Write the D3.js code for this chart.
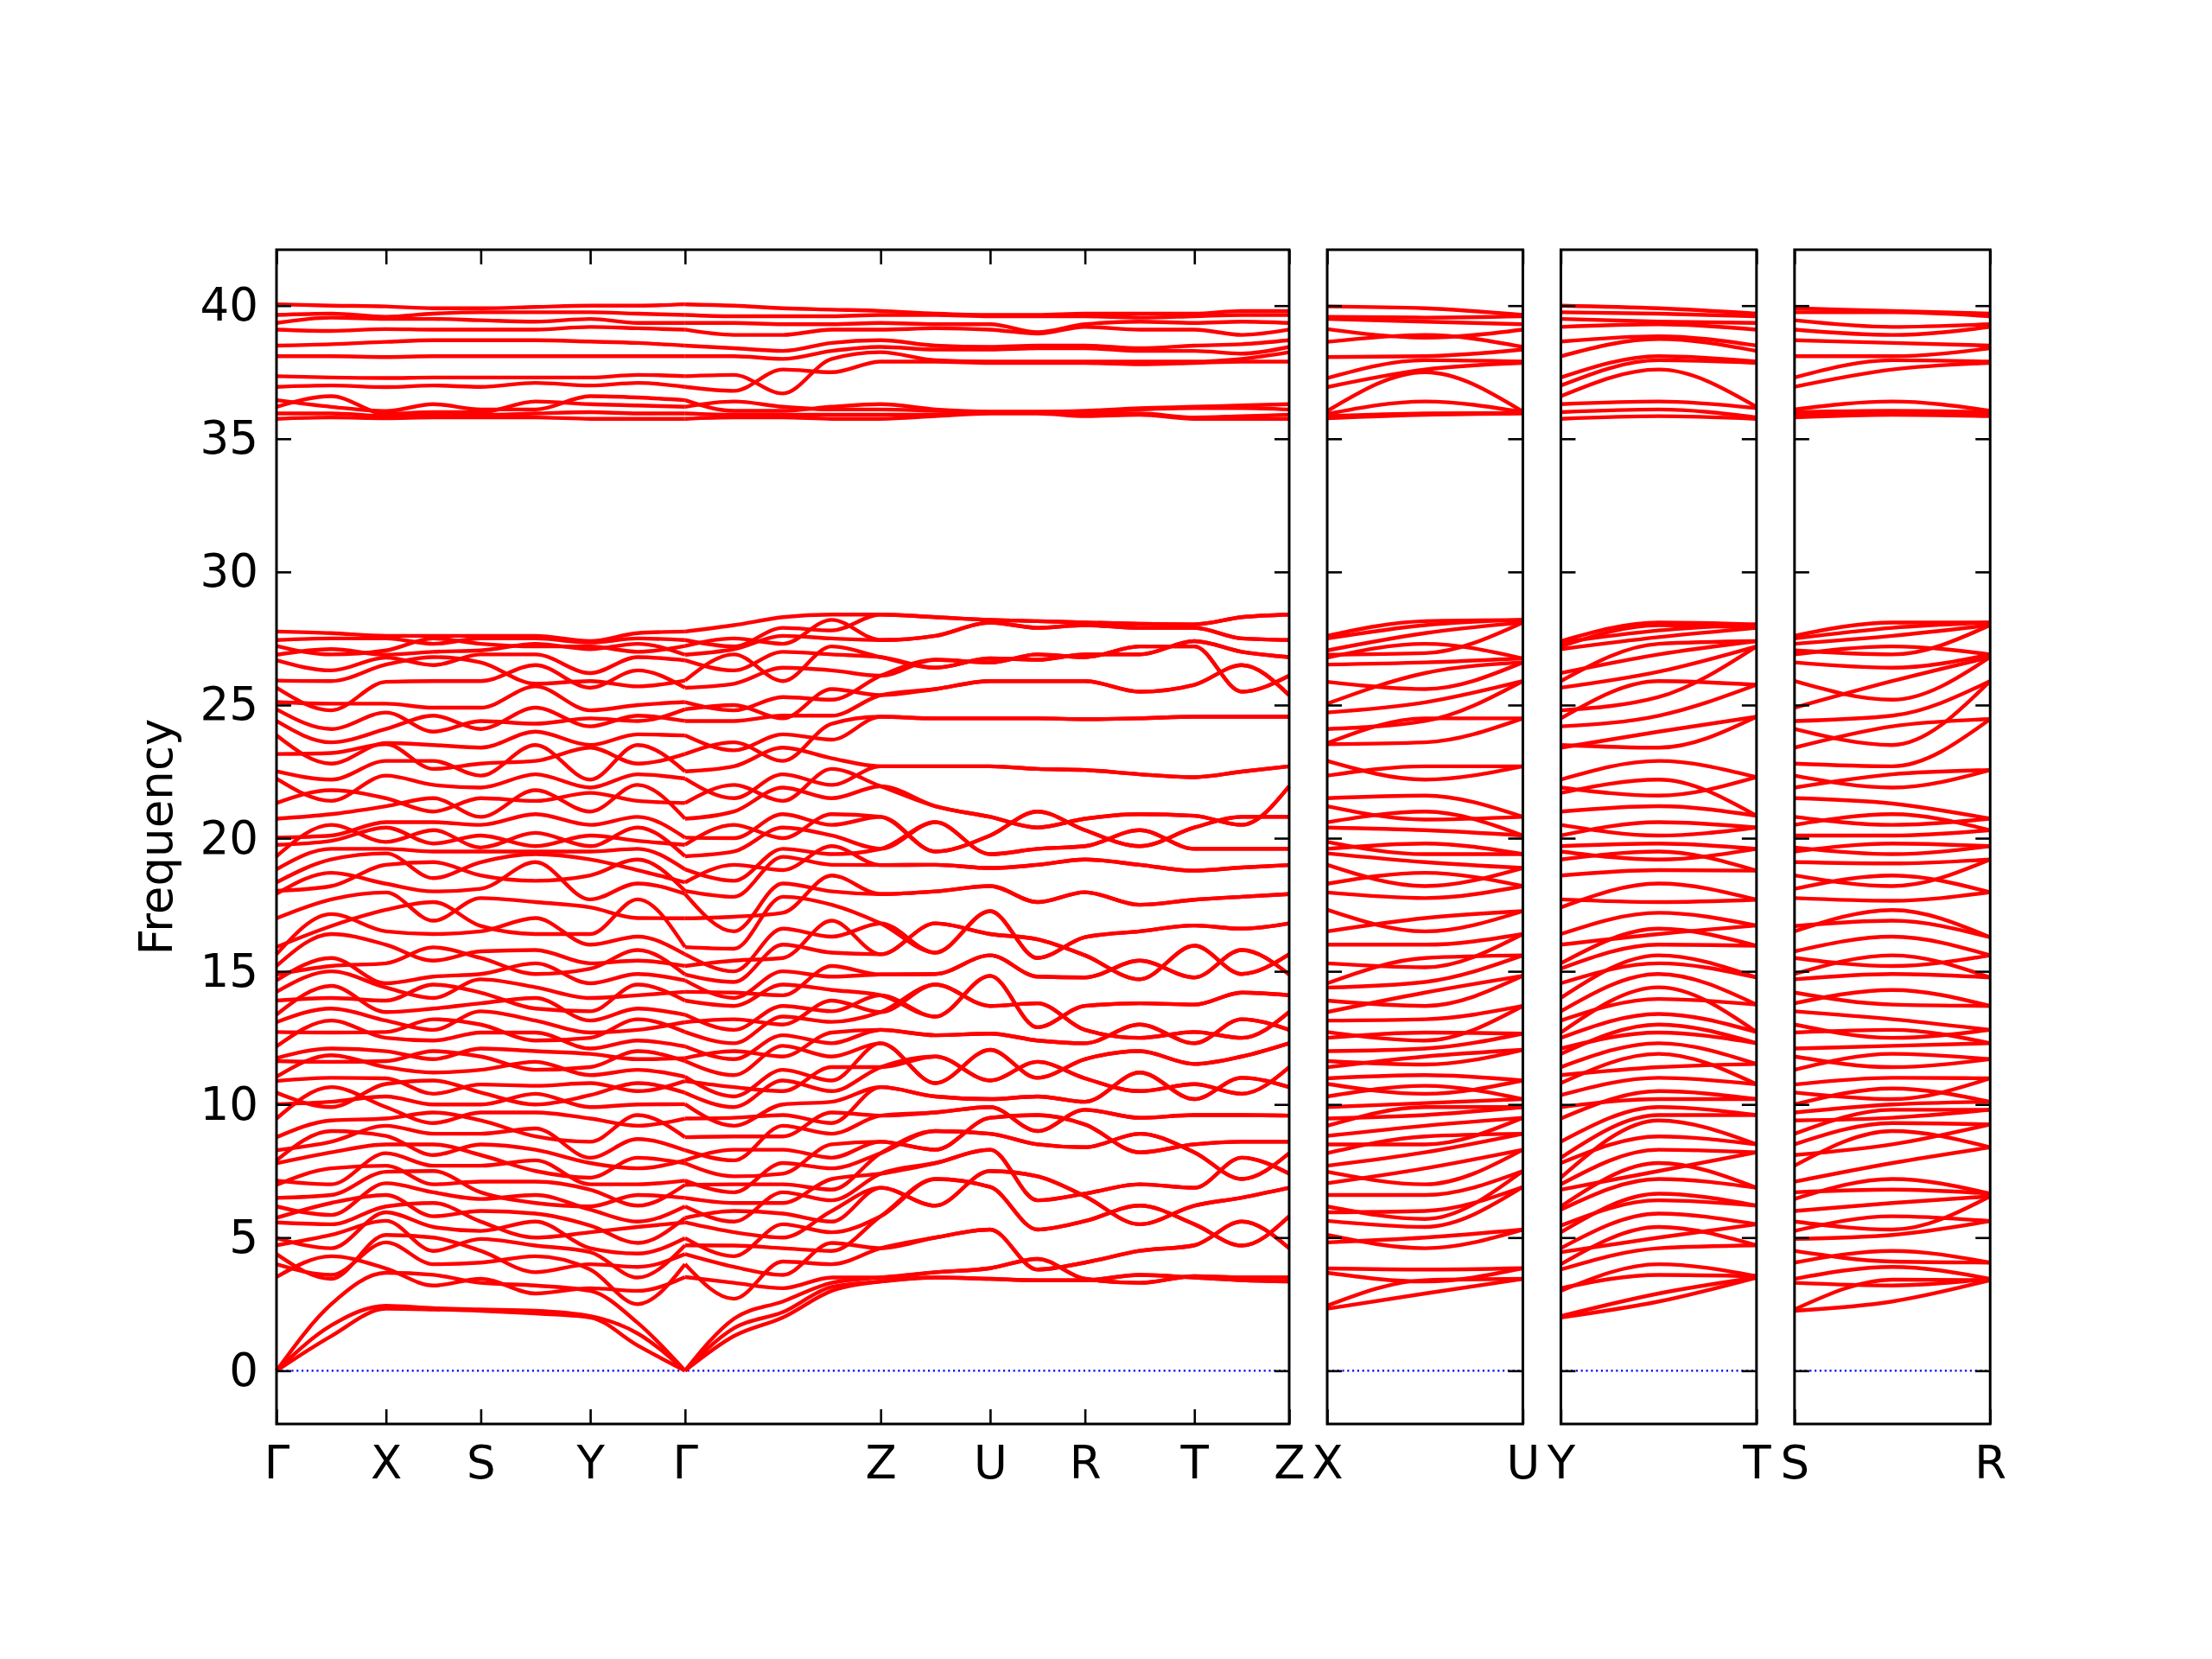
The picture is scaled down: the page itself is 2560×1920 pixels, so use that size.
<!DOCTYPE html>
<html>
<head>
<meta charset="utf-8">
<script src="https://cdn.jsdelivr.net/npm/d3@7"></script>
<style>
body { margin: 0; background: #fff; }
</style>
</head>
<body>
<svg id="drawing_region"></svg>
<script>
// band path: high-symmetry labels per panel and segment lengths (reciprocal space)
const panelPaths = [
    ["Γ", "X", "S", "Y", "Γ", "Z", "U", "R", "T", "Z"],
    ["X", "U"],
    ["Y", "T"],
    ["S", "R"]
];
const panelKeys = [
    ["G", "X", "S", "Y", "G", "Z", "U", "R", "T", "Z"],
    ["X", "U"],
    ["Y", "T"],
    ["S", "R"]
];
const panelSegLengths = [
    [1.27, 1.10, 1.27, 1.10, 2.27, 1.27, 1.10, 1.27, 1.10],
    [2.27],
    [2.27],
    [2.27]
];
// q-points sampled inside each segment
const panelSegSamples = [
    [["GX"], ["XS"], ["SY"], ["YG"], ["GZ1", "GZ2", "GZ3"], ["ZU"], ["UR"], ["RT"], ["TZ"]],
    [["XU"]],
    [["YT"]],
    [["SR"]]
];
// the curve is restarted at these segments (kink of the acoustic branches at Γ)
const panelBreaks = [[4], [], [], []];

// frequencies at each sampled q-point, lower 60 branches, listed branch by branch
const lowG = [0, 0, 0, 3.52, 4.0, 4.38, 4.71, 4.98, 5.57, 5.74, 6.17, 6.49, 6.98, 7.14, 7.79, 7.9, 8.28, 8.77, 9.47, 10.01, 10.44, 10.88, 11.04, 11.63, 11.74, 12.18, 12.72, 13.09, 13.37, 13.9, 14.23, 14.66, 14.88, 15.2, 15.64, 15.91, 16.99, 17.91, 18.02, 18.34, 18.83, 19.32, 19.75, 20.02, 20.73, 21.32, 22.24, 22.51, 23.16, 23.86, 24.4, 24.84, 25.11, 25.65, 25.92, 26.68, 26.89, 27.22, 27.44, 27.76];
const lowGX = [1.3, 1.7, 2.5, 4.3, 3.6, 3.45, 5.1, 4.6, 5.5, 6.3, 5.85, 6.6, 7.6, 7.0, 8.2, 9.0, 8.6, 9.4, 10.65, 10.1, 9.9, 11.0, 11.85, 11.6, 12.1, 13.15, 12.7, 13.6, 14.45, 14.0, 15.0, 15.5, 15.2, 16.4, 17.15, 16.7, 17.7, 18.7, 18.2, 19.2, 19.6, 20.5, 19.9, 20.1, 20.9, 21.8, 21.4, 22.2, 23.2, 22.8, 23.6, 24.1, 25.05, 24.8, 25.9, 26.3, 27.1, 26.9, 27.5, 27.7];
const lowX = [2.33, 2.44, 3.68, 3.84, 4.82, 5.1, 5.63, 5.95, 6.17, 6.6, 7.04, 7.47, 7.7, 8.17, 8.5, 8.82, 9.2, 9.47, 9.9, 10.3, 10.77, 10.98, 11.4, 11.63, 12.0, 12.5, 12.72, 13.15, 13.47, 13.9, 14.39, 14.55, 15.3, 16.0, 16.5, 17.31, 17.96, 18.29, 19.0, 19.43, 19.6, 19.86, 20.4, 20.6, 21.2, 21.5, 22.35, 22.9, 23.53, 23.57, 24.1, 24.72, 25.05, 25.87, 26.52, 26.78, 26.89, 27.05, 27.5, 27.6];
const lowXS = [2.3, 2.35, 3.6, 3.2, 4.0, 5.0, 4.5, 5.4, 6.3, 5.8, 6.7, 7.5, 7.0, 7.7, 8.5, 8.1, 8.9, 9.7, 9.3, 10.0, 10.9, 10.4, 11.2, 12.0, 11.7, 12.4, 13.2, 12.8, 13.6, 14.5, 14.0, 14.8, 15.9, 15.4, 16.4, 17.6, 16.9, 18.0, 19.1, 18.5, 19.5, 20.3, 19.8, 20.6, 21.5, 21.0, 22.0, 22.9, 22.6, 23.5, 24.6, 24.0, 24.9, 25.9, 26.8, 26.5, 27.0, 27.5, 27.3, 27.6];
const lowS = [2.25, 2.3, 3.3, 3.45, 4.06, 4.5, 4.95, 5.25, 5.6, 6.0, 6.45, 6.7, 7.1, 7.7, 8.1, 8.5, 8.9, 9.4, 9.7, 10.0, 10.45, 10.75, 11.3, 11.8, 12.1, 12.7, 13.0, 13.5, 13.8, 14.2, 14.7, 14.9, 15.5, 15.75, 16.5, 16.7, 17.75, 18.1, 18.6, 19.1, 19.5, 19.65, 20.1, 20.5, 20.8, 21.5, 21.9, 22.35, 22.8, 23.4, 24.1, 24.4, 24.9, 25.9, 26.6, 26.9, 27.05, 27.3, 27.5, 27.6];
const lowSY = [2.15, 2.25, 3.2, 2.9, 4.3, 3.7, 4.7, 5.6, 5.0, 5.9, 6.6, 6.3, 7.1, 7.9, 7.5, 8.3, 9.1, 8.8, 9.7, 10.4, 10.0, 10.7, 11.6, 11.3, 12.0, 12.7, 12.4, 13.15, 14.0, 13.6, 14.4, 15.3, 14.9, 15.8, 17.0, 16.4, 17.6, 19.1, 18.4, 19.4, 19.5, 20.2, 19.7, 20.9, 21.8, 21.4, 22.4, 23.5, 22.9, 24.0, 24.9, 24.3, 25.7, 26.5, 25.8, 26.9, 27.3, 27.2, 27.5, 27.6];
const lowY = [2.0, 2.05, 3.0, 3.1, 3.8, 4.0, 4.45, 4.6, 5.2, 5.45, 6.05, 6.17, 6.8, 7.0, 7.25, 7.8, 8.0, 8.6, 9.47, 9.9, 10.35, 10.8, 11.1, 11.4, 11.9, 12.1, 12.5, 12.7, 13.15, 13.5, 14.0, 14.55, 15.1, 15.3, 16.0, 16.4, 17.4, 17.7, 18.6, 19.2, 19.5, 19.7, 20.1, 20.5, 21.0, 21.7, 21.9, 22.2, 23.4, 23.5, 24.2, 24.5, 24.8, 25.65, 25.9, 26.2, 27.1, 27.2, 27.35, 27.4];
const lowYG = [0.95, 1.4, 1.8, 3.0, 2.5, 3.9, 3.5, 4.4, 5.4, 4.8, 5.6, 6.6, 6.2, 7.0, 8.0, 7.6, 8.7, 9.6, 9.2, 10.0, 10.8, 10.5, 11.3, 12.0, 11.7, 12.4, 13.2, 12.8, 13.6, 14.5, 14.1, 14.9, 15.8, 15.4, 16.3, 17.7, 17.0, 18.3, 19.2, 18.8, 19.6, 20.4, 19.9, 20.8, 22.0, 21.4, 22.4, 23.5, 22.8, 23.9, 24.6, 24.4, 25.0, 26.3, 25.7, 26.8, 27.3, 27.0, 27.5, 27.7];
const lowGZ1 = [1.3, 1.6, 1.95, 3.3, 2.7, 3.9, 4.7, 4.3, 5.2, 6.0, 5.6, 6.3, 7.0, 6.7, 7.3, 8.3, 7.9, 8.8, 9.5, 9.2, 9.9, 10.65, 10.3, 11.1, 12.0, 11.7, 12.3, 13.2, 12.8, 13.7, 14.2, 14.0, 14.6, 15.4, 15.0, 15.85, 17.05, 16.5, 17.8, 19.0, 18.4, 19.5, 20.5, 20.0, 21.0, 22.0, 21.5, 22.7, 23.6, 23.3, 24.4, 25.0, 24.8, 25.8, 26.9, 26.3, 27.1, 27.5, 27.2, 28.0];
const lowGZ2 = [2.0, 2.2, 2.6, 3.1, 4.1, 3.6, 4.6, 5.5, 5.0, 5.9, 6.7, 6.3, 7.0, 7.8, 7.4, 8.3, 9.2, 8.8, 9.6, 10.0, 10.9, 10.5, 11.3, 12.2, 11.8, 12.6, 13.3, 13.0, 13.7, 14.5, 14.1, 15.0, 16.0, 15.5, 16.6, 17.8, 17.2, 18.3, 19.3, 18.8, 19.6, 20.4, 20.0, 20.9, 21.9, 21.4, 22.4, 23.4, 22.9, 23.9, 24.6, 24.5, 25.3, 26.4, 25.9, 27.0, 27.6, 27.3, 27.9, 28.3];
const lowGZ3 = [3.0, 3.15, 3.3, 3.5, 4.0, 4.8, 4.5, 5.2, 6.0, 5.6, 6.4, 7.2, 6.8, 7.6, 8.5, 8.0, 8.9, 9.7, 9.3, 10.1, 10.5, 11.4, 10.9, 11.8, 12.7, 12.3, 13.1, 13.9, 13.5, 14.3, 15.2, 14.8, 15.7, 16.9, 16.3, 17.5, 18.6, 18.0, 19.0, 19.7, 19.4, 20.1, 20.9, 20.5, 21.5, 22.6, 22.0, 23.0, 24.3, 23.7, 24.6, 25.6, 25.2, 26.3, 27.2, 26.9, 27.5, 28.2, 27.8, 28.4];
const lowXU = [2.9, 3.4, 3.35, 3.8, 5.0, 4.6, 5.4, 6.0, 5.7, 6.6, 7.6, 7.0, 8.2, 8.8, 8.5, 9.2, 9.9, 9.6, 10.05, 10.7, 10.4, 11.1, 11.8, 11.5, 12.1, 12.7, 12.4, 13.2, 14.2, 13.7, 14.6, 15.5, 15.15, 16.0, 17.0, 16.5, 17.75, 18.7, 18.2, 19.1, 19.8, 19.4, 20.3, 21.0, 20.7, 21.6, 22.7, 22.2, 23.6, 24.5, 24.4, 25.1, 26.2, 25.6, 26.6, 27.3, 26.95, 27.7, 28.0, 28.15];
const lowYT = [2.6, 2.9, 4.0, 3.6, 4.6, 5.4, 5.0, 5.9, 6.65, 6.4, 7.2, 7.8, 7.5, 8.3, 9.4, 8.8, 9.6, 9.9, 10.5, 10.2, 11.0, 11.9, 11.4, 12.3, 13.0, 12.7, 13.4, 14.4, 13.96, 14.9, 15.6, 15.3, 16.0, 16.6, 16.4, 17.2, 18.3, 17.6, 18.8, 19.5, 19.2, 19.8, 20.6, 20.1, 21.2, 22.2, 21.6, 22.9, 24.0, 23.4, 24.6, 25.9, 25.3, 26.25, 27.3, 26.9, 27.55, 28.0, 27.8, 28.1];
const lowSR = [2.6, 3.42, 3.2, 3.9, 4.5, 4.1, 5.1, 5.8, 5.3, 6.3, 7.2, 6.8, 7.8, 9.0, 8.5, 9.3, 9.8, 9.5, 10.0, 10.6, 10.2, 11.0, 11.9, 11.4, 12.2, 12.8, 12.5, 13.2, 14.3, 13.75, 14.9, 15.6, 15.2, 16.3, 17.3, 16.9, 17.65, 18.6, 18.2, 19.05, 19.8, 19.4, 20.1, 20.9, 20.5, 21.3, 22.4, 21.9, 22.7, 24.2, 23.5, 24.6, 25.9, 25.2, 26.4, 27.2, 26.9, 27.6, 27.9, 28.1];

// on the Z-U-R-T face the lower branches come in degenerate pairs (each value = 2 branches)
const pairZ = [3.35, 3.5, 4.6, 5.8, 6.87, 7.4, 8.17, 8.6, 9.58, 10.65, 11.4, 12.3, 12.8, 13.47, 14.1, 14.88, 15.64, 16.8, 17.9, 18.99, 19.6, 20.8, 21.95, 22.7, 24.56, 25.37, 26.1, 26.8, 27.44, 28.4];
const pairZU = [3.5, 3.7, 5.0, 7.2, 6.2, 7.8, 9.0, 8.3, 9.7, 10.3, 11.8, 10.8, 12.6, 14.5, 13.3, 14.9, 16.8, 15.7, 18.0, 19.0, 20.6, 19.5, 21.2, 22.7, 24.5, 25.6, 26.7, 26.4, 27.6, 28.3];
const pairU = [3.45, 3.85, 5.3, 6.9, 7.5, 8.3, 8.9, 9.5, 9.9, 10.2, 10.9, 12.05, 12.66, 13.7, 14.83, 15.6, 16.4, 17.26, 18.2, 18.88, 19.4, 20.1, 20.8, 22.7, 24.5, 25.9, 26.6, 26.75, 28.1, 28.2];
const pairUR = [3.4, 4.2, 3.8, 5.3, 7.3, 6.4, 8.5, 9.6, 9.0, 10.3, 11.6, 11.0, 12.4, 13.8, 12.9, 14.8, 16.2, 15.5, 17.6, 19.0, 19.6, 21.0, 20.4, 22.6, 24.5, 25.9, 26.9, 26.7, 27.9, 28.15];
const pairR = [3.4, 3.45, 4.06, 5.62, 6.55, 6.65, 8.39, 9.25, 9.8, 10.1, 10.98, 11.7, 12.3, 12.8, 13.7, 14.77, 15.6, 16.28, 17.97, 19.2, 19.7, 20.3, 20.73, 22.56, 24.47, 25.9, 26.8, 26.9, 28.0, 28.1];
const pairRT = [3.6, 3.3, 4.5, 6.2, 5.5, 7.0, 8.9, 8.2, 9.5, 11.2, 10.5, 12.0, 13.0, 12.5, 13.8, 15.4, 14.7, 16.5, 17.5, 19.0, 20.3, 19.7, 20.9, 22.4, 24.5, 25.5, 27.2, 26.9, 27.9, 28.05];
const pairT = [3.5, 3.55, 4.71, 5.5, 6.2, 6.87, 8.2, 8.5, 9.6, 10.2, 10.76, 11.52, 12.3, 12.72, 13.75, 14.77, 15.96, 16.72, 17.69, 18.78, 19.6, 20.4, 20.84, 22.29, 24.56, 25.76, 27.2, 27.4, 27.9, 28.03];
const pairTZ = [3.4, 3.5, 5.6, 4.7, 6.5, 8.0, 7.2, 8.6, 9.6, 11.0, 10.4, 11.8, 13.2, 12.5, 14.2, 15.8, 14.9, 16.6, 17.8, 18.9, 19.6, 20.8, 20.5, 22.5, 24.56, 26.5, 25.5, 27.0, 27.5, 28.3];

// upper 12 branches (above the gap)
const highG = [35.75, 35.95, 36.2, 36.45, 36.95, 37.35, 38.1, 38.5, 39.1, 39.35, 39.65, 40.05];
const highGX = [35.8, 35.95, 36.6, 36.2, 37.0, 37.3, 38.1, 38.55, 39.05, 39.55, 39.7, 40.0];
const highX = [35.77, 35.85, 35.93, 36.04, 36.94, 37.28, 38.07, 38.64, 39.12, 39.5, 39.58, 39.97];
const highXS = [35.8, 35.9, 36.0, 36.3, 37.0, 37.3, 38.1, 38.7, 39.1, 39.5, 39.7, 39.9];
const highS = [35.8, 35.9, 36.0, 36.1, 36.95, 37.3, 38.1, 38.7, 39.1, 39.45, 39.75, 39.9];
const highSY = [35.8, 35.95, 36.4, 36.1, 37.1, 37.3, 38.1, 38.7, 39.1, 39.4, 39.75, 39.95];
const highY = [35.75, 36.0, 36.3, 36.6, 37.0, 37.3, 38.1, 38.65, 39.2, 39.5, 39.75, 40.0];
const highYG = [35.75, 35.95, 36.25, 36.55, 37.1, 37.4, 38.1, 38.6, 39.15, 39.35, 39.7, 40.0];
const highGZ1 = [35.8, 35.9, 36.4, 36.05, 36.8, 37.4, 38.1, 38.4, 38.9, 39.35, 39.6, 40.0];
const highGZ2 = [35.8, 35.9, 36.2, 36.05, 37.6, 36.7, 38.0, 38.3, 38.9, 39.3, 39.6, 39.9];
const highGZ3 = [35.75, 35.9, 36.1, 36.2, 37.5, 38.0, 38.3, 38.6, 39.1, 39.3, 39.6, 39.85];
const highZ = [35.75, 35.9, 36.1, 36.3, 37.9, 38.25, 38.45, 38.7, 39.1, 39.35, 39.65, 39.8];
const highZU = [35.85, 35.9, 36.05, 36.1, 37.9, 37.95, 38.35, 38.5, 39.15, 39.3, 39.65, 39.7];
const highU = [35.95, 35.97, 36.0, 36.02, 37.85, 37.9, 38.35, 38.45, 39.1, 39.3, 39.6, 39.65];
const highUR = [35.95, 35.97, 36.0, 36.02, 37.85, 37.9, 38.4, 38.5, 38.95, 39.0, 39.6, 39.65];
const highR = [35.85, 35.95, 36.0, 36.05, 37.85, 37.9, 38.4, 38.5, 39.2, 39.3, 39.6, 39.7];
const highRT = [35.9, 35.95, 36.1, 36.15, 37.8, 37.9, 38.3, 38.4, 39.1, 39.4, 39.55, 39.7];
const highT = [35.75, 35.8, 36.15, 36.2, 37.85, 37.9, 38.3, 38.5, 39.1, 39.35, 39.6, 39.7];
const highTZ = [35.75, 35.85, 36.15, 36.25, 37.9, 38.0, 38.2, 38.55, 38.9, 39.4, 39.65, 39.8];
const highXU = [35.9, 35.95, 36.4, 37.5, 37.6, 37.95, 38.1, 38.9, 38.8, 39.4, 39.55, 39.9];
const highYT = [35.85, 36.1, 36.4, 37.6, 37.95, 38.1, 38.75, 38.85, 39.3, 39.4, 39.7, 39.9];
const highSR = [35.9, 35.95, 36.05, 36.4, 37.6, 37.95, 38.1, 38.6, 38.9, 39.2, 39.75, 39.8];

const yTicks = [0, 5, 10, 15, 20, 25, 30, 35, 40];

// ---------------------------------------------------------------
const twice = arr => arr.flatMap(v => [v, v]);
const freq = {
    G: lowG.concat(highG), GX: lowGX.concat(highGX), X: lowX.concat(highX),
    XS: lowXS.concat(highXS), S: lowS.concat(highS), SY: lowSY.concat(highSY),
    Y: lowY.concat(highY), YG: lowYG.concat(highYG),
    GZ1: lowGZ1.concat(highGZ1), GZ2: lowGZ2.concat(highGZ2), GZ3: lowGZ3.concat(highGZ3),
    Z: twice(pairZ).concat(highZ), ZU: twice(pairZU).concat(highZU), U: twice(pairU).concat(highU),
    UR: twice(pairUR).concat(highUR), R: twice(pairR).concat(highR), RT: twice(pairRT).concat(highRT),
    T: twice(pairT).concat(highT), TZ: twice(pairTZ).concat(highTZ),
    XU: lowXU.concat(highXU), YT: lowYT.concat(highYT), SR: lowSR.concat(highSR)
};
const nBands = freq.G.length;

const config = {
    width: 2560, height: 1920,
    left: 320, top: 289, bottom: 1648,
    firstPanelWidth: 1172, gap: 44
};

const svg = d3.select("#drawing_region")
    .attr("width", config.width)
    .attr("height", config.height)
    .style("background", "#fff");

const yScale = d3.scaleLinear().domain([-2, 42.1]).range([config.bottom, config.top]);
const pxPerUnit = config.firstPanelWidth / d3.sum(panelSegLengths[0]);

const line = d3.line()
    .x(d => d.x)
    .y(d => yScale(d.f))
    .curve(d3.curveMonotoneX);

let left = config.left;
panelPaths.forEach((labels, p) => {
    const len = d3.sum(panelSegLengths[p]);
    const xScale = d3.scaleLinear().domain([0, len]).range([left, left + len * pxPerUnit]);
    left += len * pxPerUnit + config.gap;

    // k positions of the high-symmetry points
    const kPos = [0];
    panelSegLengths[p].forEach(l => kPos.push(kPos[kPos.length - 1] + l));

    const g = svg.append("g");

    // zero line
    g.append("line")
        .attr("x1", xScale(0)).attr("x2", xScale(len))
        .attr("y1", yScale(0)).attr("y2", yScale(0))
        .attr("stroke", "#0000ff")
        .attr("stroke-width", 2.2)
        .attr("stroke-dasharray", "2.2,3.6");

    // collect sampled columns, split into continuous pieces
    const pieces = [];
    let cur = [];
    panelSegLengths[p].forEach((l, s) => {
        if (panelBreaks[p].includes(s)) {
            pieces.push(cur);
            cur = [];
        }
        const names = [panelKeys[p][s]].concat(panelSegSamples[p][s], [panelKeys[p][s + 1]]);
        names.forEach((n, i) => {
            if (i === 0 && cur.length) return;   // shared end point already there
            cur.push({x: xScale(kPos[s] + l * i / (names.length - 1)), vals: freq[n]});
        });
    });
    pieces.push(cur);

    // bands
    pieces.forEach(cols => {
        for (let b = 0; b < nBands; b++) {
            g.append("path")
                .datum(cols.map(c => ({x: c.x, f: c.vals[b]})))
                .attr("d", line)
                .attr("fill", "none")
                .attr("stroke", "#ff0000")
                .attr("stroke-width", 4.4)
                .attr("stroke-linejoin", "round");
        }
    });

    // axes (ticks point inward)
    const axisStyle = sel => {
        sel.select(".domain").remove();
        sel.selectAll(".tick line").attr("stroke", "#000").attr("stroke-width", 2.6);
        sel.selectAll("text")
            .attr("fill", "#000")
            .attr("font-family", "'DejaVu Sans', sans-serif")
            .attr("font-size", 53);
    };
    g.append("g")
        .attr("transform", `translate(${xScale(0)},0)`)
        .call(d3.axisLeft(yScale).tickValues(yTicks).tickSize(-17).tickPadding(21)
            .tickFormat(p === 0 ? d3.format("d") : () => ""))
        .call(axisStyle);
    g.append("g")
        .attr("transform", `translate(${xScale(len)},0)`)
        .call(d3.axisRight(yScale).tickValues(yTicks).tickSize(-17).tickFormat(() => ""))
        .call(axisStyle);
    g.append("g")
        .attr("transform", `translate(0,${config.bottom})`)
        .call(d3.axisBottom(xScale).tickValues(kPos).tickSize(-17).tickPadding(25)
            .tickFormat((d, i) => labels[i]))
        .call(axisStyle);
    g.append("g")
        .attr("transform", `translate(0,${config.top})`)
        .call(d3.axisTop(xScale).tickValues(kPos).tickSize(-17).tickFormat(() => ""))
        .call(axisStyle);

    // frame
    g.append("rect")
        .attr("x", xScale(0)).attr("y", config.top)
        .attr("width", xScale(len) - xScale(0))
        .attr("height", config.bottom - config.top)
        .attr("fill", "none")
        .attr("stroke", "#000")
        .attr("stroke-width", 3);
});

// y label
svg.append("text")
    .attr("transform", `translate(199,${(config.top + config.bottom) / 2}) rotate(-90)`)
    .attr("text-anchor", "middle")
    .attr("font-family", "'DejaVu Sans', sans-serif")
    .attr("font-size", 53)
    .attr("fill", "#000")
    .text("Frequency");
</script>
</body>
</html>
